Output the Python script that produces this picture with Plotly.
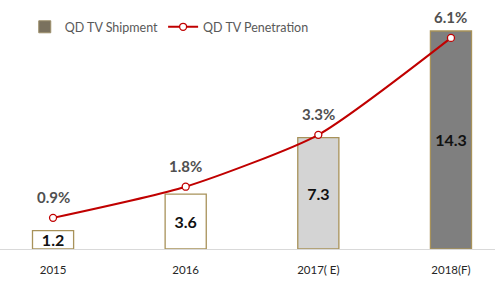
import plotly.graph_objects as go

years = ["2015", "2016", "2017( E)", "2018(F)"]
shipment = [1.2, 3.6, 7.3, 14.3]
penetration = [0.9, 1.8, 3.3, 6.1]
shipment_labels = ["1.2", "3.6", "7.3", "14.3"]
penetration_labels = ["0.9%", "1.8%", "3.3%", "6.1%"]
bar_fills = ["#ffffff", "#ffffff", "#d4d4d4", "#7f7f7f"]

FONT = "Lato, Open Sans, sans-serif"

fig = go.Figure()
fig.add_trace(go.Bar(
    x=years, y=shipment, name="QD TV Shipment",
    marker=dict(color=bar_fills, line=dict(color="#a8925a", width=1.3)),
    width=0.31,
    text=shipment_labels, textposition="inside", insidetextanchor="middle",
    textfont=dict(family=FONT, size=16, color="#111111", weight="bold"),
    constraintext="none", cliponaxis=False,
    showlegend=False,
))
# legend proxy for bar swatch
fig.add_trace(go.Bar(
    x=[None], y=[None], name="QD TV Shipment",
    marker=dict(color="#7a715e", line=dict(color="#9c8f6a", width=1)),
    showlegend=True,
))
fig.add_trace(go.Scatter(
    x=years, y=penetration, name="QD TV Penetration", yaxis="y2",
    mode="lines+markers",
    line=dict(color="#c00000", width=2, shape="spline", smoothing=0.6),
    marker=dict(size=7, color="white", line=dict(color="#c00000", width=1.3)),
    cliponaxis=False,
))

for i, (v, t) in enumerate(zip(penetration, penetration_labels)):
    fig.add_annotation(x=i, y=v, xref="x", yref="y2", text=t, showarrow=False,
                       yshift=21, font=dict(family=FONT, size=15, color="#505050", weight="bold"))

fig.update_layout(
    width=495, height=284,
    margin=dict(l=0, r=0, t=13, b=35),
    paper_bgcolor="white", plot_bgcolor="white",
    barmode="overlay",
    font=dict(family=FONT, color="#404040"),
    xaxis=dict(type="category", range=[-0.4, 3.332], showgrid=False, showline=True,
               linecolor="#d9d9d9", linewidth=1, ticks="", ticklabelstandoff=10,
               tickfont=dict(size=11.5, color="#262626"), fixedrange=True),
    yaxis=dict(range=[0, 15.48], visible=False, fixedrange=True),
    yaxis2=dict(range=[0, 6.82], overlaying="y", visible=False, fixedrange=True),
    legend=dict(orientation="h", x=0.05, y=0.94, xanchor="left", yanchor="middle",
                font=dict(size=12.5, color="#595959"), bgcolor="rgba(0,0,0,0)",
                itemwidth=30, tracegroupgap=0),
    showlegend=True,
)

fig.write_html("out.html")
